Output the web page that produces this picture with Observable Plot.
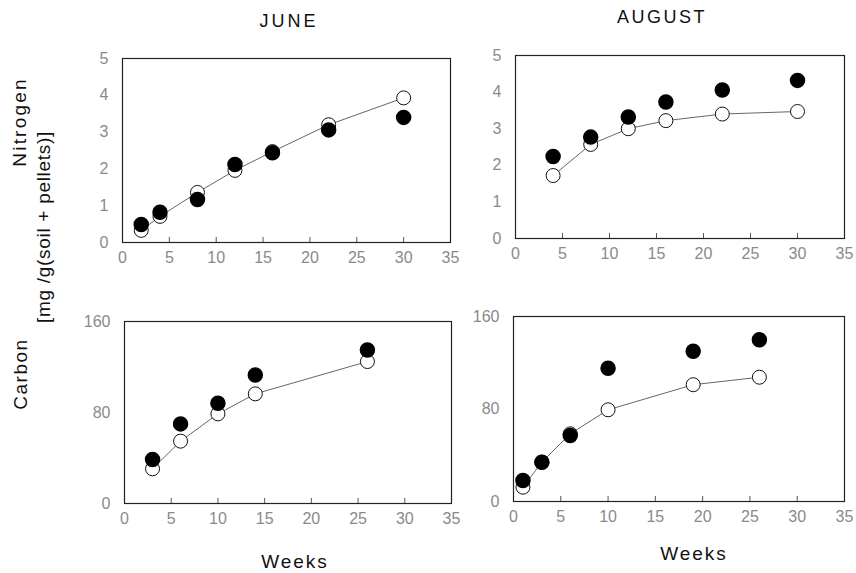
<!DOCTYPE html>
<html><head><meta charset="utf-8">
<script src="https://cdn.jsdelivr.net/npm/d3@7"></script>
<script src="https://cdn.jsdelivr.net/npm/@observablehq/plot@0.6"></script>
<style>
body{margin:0;background:#fff;}
#c{position:relative;width:856px;height:573px;font-family:"Liberation Sans",sans-serif;overflow:hidden;background:#fff}
.p{position:absolute}
.t{position:absolute;color:#111;white-space:nowrap;transform:translate(-50%,-50%);line-height:1}
.r{transform:translate(-50%,-50%) rotate(-90deg)}
</style></head><body><div id="c"></div>
<script>
// June – Nitrogen
const weeksJuneN = [2, 4, 8, 12, 16, 22, 30];
const juneNOpen = [0.33, 0.71, 1.36, 1.96, 2.47, 3.2, 3.93];
const juneNFilled = [0.49, 0.82, 1.17, 2.12, 2.44, 3.06, 3.40];
// August – Nitrogen
const weeksAugN = [4, 8, 12, 16, 22, 30];
const augNOpen = [1.72, 2.57, 3.0, 3.22, 3.4, 3.47];
const augNFilled = [2.24, 2.77, 3.32, 3.73, 4.06, 4.32];
// June – Carbon
const weeksJuneC = [3, 6, 10, 14, 26];
const juneCOpen = [30.5, 54.8, 78.8, 96.4, 124.8];
const juneCFilled = [38.7, 70, 88.2, 113, 135];
// August – Carbon
const weeksAugC = [1, 3, 6, 10, 19, 26];
const augCOpen = [12.4, 34, 58.5, 79.3, 101, 107.5];
const augCFilled = [18.2, 34, 57, 115.3, 130, 139.9];
// Ticks
const xTicks = [0, 5, 10, 15, 20, 25, 30, 35];
const xInnerTicks = [5, 10, 15, 20, 25, 30];
const nTicks = [0, 1, 2, 3, 4, 5];
const cTicks = [0, 80, 160];

const container = document.getElementById("c");

function panel({weeks, open, filled, yDomain, yTicks, left, top, fw, fh}) {
  const mL = 30, mR = 10, mT = 10, mB = 34;
  const openData = weeks.map((w, i) => ({w, v: open[i]}));
  const filledData = weeks.map((w, i) => ({w, v: filled[i]}));
  const svg = Plot.plot({
    width: fw + mL + mR,
    height: fh + mT + mB,
    marginLeft: mL, marginRight: mR, marginTop: mT, marginBottom: mB,
    style: {background: "transparent", fontFamily: "Liberation Sans, sans-serif", fontSize: "16px", overflow: "visible"},
    x: {domain: [0, 35]},
    y: {domain: yDomain},
    marks: [
      Plot.axisX({ticks: xTicks, tickSize: 0, tickPadding: 9, tickFormat: d3.format("d"), label: null, color: "#8a8a8a", fontSize: 16}),
      Plot.axisY({ticks: yTicks, tickSize: 0, tickPadding: 14, tickFormat: d3.format("d"), label: null, color: "#8a8a8a", fontSize: 16}),
      Plot.ruleX(xInnerTicks, {x: d => d, stroke: "#555", strokeWidth: 1, insetTop: fh - 5}),
      Plot.frame({stroke: "#222", strokeWidth: 1.2}),
      Plot.line(openData, {x: "w", y: "v", stroke: "#555", strokeWidth: 0.9}),
      Plot.dot(openData, {x: "w", y: "v", r: 7, fill: "#fff", stroke: "#111", strokeWidth: 1}),
      Plot.dot(filledData, {x: "w", y: "v", r: 7, fill: "#000", stroke: "#000"})
    ]
  });
  svg.classList.add("p");
  svg.style.left = (left - mL) + "px";
  svg.style.top = (top - mT) + "px";
  container.appendChild(svg);
}

panel({weeks: weeksJuneN, open: juneNOpen, filled: juneNFilled, yDomain: [0, 5], yTicks: nTicks, left: 122, top: 58, fw: 328, fh: 184});
panel({weeks: weeksAugN, open: augNOpen, filled: augNFilled, yDomain: [0, 5], yTicks: nTicks, left: 515, top: 55, fw: 329, fh: 183});
panel({weeks: weeksJuneC, open: juneCOpen, filled: juneCFilled, yDomain: [0, 160], yTicks: cTicks, left: 124, top: 321, fw: 327, fh: 182});
panel({weeks: weeksAugC, open: augCOpen, filled: augCFilled, yDomain: [0, 160], yTicks: cTicks, left: 513, top: 316, fw: 331, fh: 185});

function label(text, x, y, size, spacing, rotate) {
  const d = document.createElement("div");
  d.className = "t" + (rotate ? " r" : "");
  d.textContent = text;
  d.style.left = x + "px";
  d.style.top = y + "px";
  d.style.fontSize = size + "px";
  d.style.letterSpacing = spacing + "px";
  container.appendChild(d);
}
label("JUNE", 289, 21, 18, 3);
label("AUGUST", 662, 17, 18, 2.5);
label("Weeks", 295, 561, 19, 2);
label("Weeks", 694, 553, 19, 2);
label("Nitrogen", 19, 122, 19, 2.2, true);
label("[mg /g(soil + pellets)]", 43, 227, 19, 0.7, true);
label("Carbon", 20, 374, 19, 1.5, true);
</script></body></html>
